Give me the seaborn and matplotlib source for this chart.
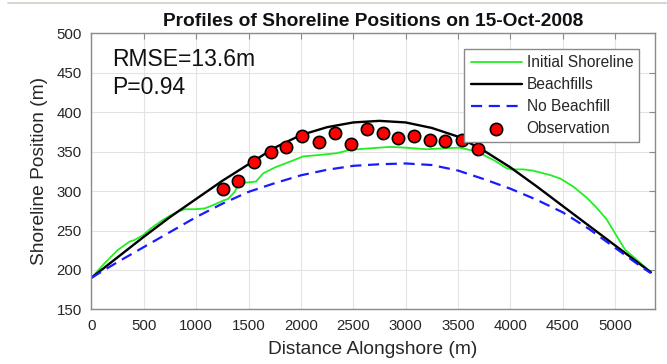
import numpy as np
import pandas as pd
import matplotlib
matplotlib.use('Agg')
import matplotlib.pyplot as plt
import seaborn as sns
from matplotlib.lines import Line2D

# values
init_x = [0, 126, 253, 365, 412, 492, 571, 683, 747, 826, 890, 985, 1081, 1177, 1259,
          1304, 1368, 1402, 1466, 1570, 1641, 1753, 1896, 2023, 2182, 2342, 2469, 2660,
          2851, 3001, 3201, 3361, 3511, 3616, 3712, 3839, 3966, 4004, 4124, 4220, 4379,
          4474, 4602, 4729, 4825, 4920, 5016, 5095, 5207, 5340]
init_y = [190, 208.5, 225.4, 236, 238, 244, 253, 263.5, 268.5, 274, 277, 277, 278, 283, 288,
          290, 299, 308.5, 310.6, 312, 322.5, 330, 337.3, 344, 345.8, 348, 352.2, 354.2,
          356, 355, 353, 354.2, 355, 352.1, 347.9, 339.4, 328.8, 327.5, 327.5, 325.8, 320.3,
          316, 305.5, 291.5, 278.6, 263.8, 242.6, 225.6, 212.7, 197.5]

fill_x = [0, 250, 500, 750, 1000, 1250, 1500, 1750, 2000, 2250, 2500, 2750, 3000, 3250,
          3500, 3750, 4000, 4250, 4500, 4750, 5000, 5250, 5340]
fill_y = [190, 216, 242, 267, 290, 313, 334, 355, 371, 381, 387, 389, 387, 380,
          369, 351, 330, 306, 281, 256, 231, 206, 197]

nofill_x = [0, 250, 500, 750, 1000, 1250, 1500, 1750, 2000, 2250, 2500, 2750, 3000, 3250,
            3500, 3750, 4000, 4250, 4500, 4750, 5000, 5250, 5340]
nofill_y = [190, 210, 229, 248, 267, 284, 299, 310, 320, 327, 332, 334, 335, 333,
            326, 315, 303, 289, 273, 252, 228, 204, 196]

obs_x = [1260, 1403, 1557, 1719, 1857, 2015, 2174, 2328, 2474, 2628, 2782, 2928, 3078,
         3236, 3378, 3536, 3694]
obs_y = [302, 313, 337, 350, 356, 370, 362, 374, 360, 379, 373, 367, 370, 365, 363, 365, 353]

sns.set_theme(style='white')
plt.rcParams['font.family'] = ['Liberation Sans', 'DejaVu Sans']

fig = plt.figure(figsize=(6.67, 3.64), dpi=100)
ax = fig.add_axes([0.137, 0.150, 0.845, 0.7585])

sns.lineplot(x=init_x, y=init_y, ax=ax, color='#22ee22', linewidth=1.3,
             label='Initial Shoreline', sort=False, estimator=None)
sns.lineplot(x=fill_x, y=fill_y, ax=ax, color='black', linewidth=1.7,
             label='Beachfills', sort=False, estimator=None)
sns.lineplot(x=nofill_x, y=nofill_y, ax=ax, color='#1a1aff', linewidth=1.6,
             linestyle=(0, (5, 3)), label='No Beachfill', sort=False, estimator=None)
sns.scatterplot(x=obs_x, y=obs_y, ax=ax, color='#ff0000', edgecolor='black',
                linewidth=1.2, s=78, label='Observation', zorder=5)

ax.set_xlim(0, 5380)
ax.set_ylim(150, 500)
ax.set_xticks(np.arange(0, 5001, 500))
ax.set_yticks(np.arange(150, 501, 50))
ax.grid(True, color='#e3e3e3', linewidth=0.8)
ax.set_axisbelow(True)
for s in ax.spines.values():
    s.set_color('#8a8a8a')
    s.set_linewidth(1.0)
ax.tick_params(direction='in', length=4, width=0.8, color='#8a8a8a',
               top=True, right=True, labelsize=10.8, labelcolor='#262626')
ax.tick_params(axis='x', pad=7)
ax.tick_params(axis='y', pad=7)

ax.set_title('Profiles of Shoreline Positions on 15-Oct-2008', fontsize=13.8,
             fontweight='bold', color='#111111', pad=5)
ax.set_xlabel('Distance Alongshore (m)', fontsize=13.8, color='#262626', labelpad=6)
ax.set_ylabel('Shoreline Position (m)', fontsize=13.8, color='#262626', labelpad=6)

ax.text(0.036, 0.8815, 'RMSE=13.6m', transform=ax.transAxes, fontsize=16.5,
        color='#111111', va='baseline')
ax.text(0.036, 0.78, 'P=0.94', transform=ax.transAxes, fontsize=16.5,
        color='#111111', va='baseline')

leg = ax.legend(loc='upper right', fontsize=11.2, frameon=True, fancybox=False,
                framealpha=1, edgecolor='#8a8a8a', borderpad=0.4, labelspacing=0.45,
                handlelength=3.3, handletextpad=0.3, borderaxespad=1.0)
leg.get_frame().set_linewidth(1.0)
for t in leg.get_texts():
    t.set_color('#262626')

fig.add_artist(Line2D([0.012, 1.0], [1 - 2.5 / 364, 1 - 2.5 / 364],
                      transform=fig.transFigure, color='#cfcfc6', linewidth=1.2))

fig.savefig('out.png', dpi=100)
